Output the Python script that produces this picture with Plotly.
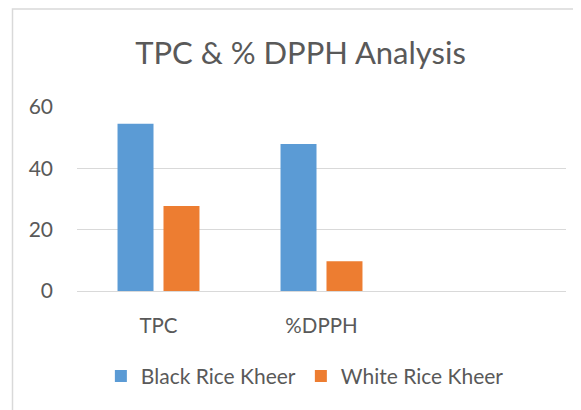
import plotly.graph_objects as go

categories = ["TPC", "%DPPH"]
black_rice = [54.5, 47.9]
white_rice = [27.7, 9.7]
series_names = ["Black Rice Kheer", "White Rice Kheer"]
tick_vals = [0, 20, 40, 60]

FONT = "Lato"
GREY = "#595959"

fig = go.Figure()
fig.add_trace(go.Bar(x=categories, y=black_rice, name=series_names[0],
                     marker=dict(color="#5B9BD5", line=dict(width=0))))
fig.add_trace(go.Bar(x=categories, y=white_rice, name=series_names[1],
                     marker=dict(color="#ED7D31", line=dict(width=0))))

fig.update_layout(
    width=573, height=402,
    margin=dict(l=69, r=15, t=99, b=119.3),
    paper_bgcolor="white", plot_bgcolor="white",
    barmode="group", bargap=0.436, bargroupgap=0.217,
    font=dict(family=FONT, color=GREY),
    title=dict(text="TPC & % DPPH Analysis", x=0.5105, xanchor="center",
               y=0.888, yanchor="middle", yref="container",
               font=dict(size=31, color=GREY, family=FONT)),
    xaxis=dict(type="category", range=[-0.5, 2.5], showgrid=False,
               showline=False, zeroline=False, ticks="",
               tickfont=dict(size=20.5, color=GREY), ticklabelstandoff=20),
    yaxis=dict(range=[0, 60], tickvals=tick_vals, showgrid=True,
               gridcolor="#d9d9d9", gridwidth=1, zeroline=True,
               zerolinecolor="#d9d9d9", zerolinewidth=1, showline=False,
               ticks="", tickfont=dict(size=21, color=GREY),
               ticklabelstandoff=23),
    showlegend=True,
    legend=dict(orientation="h", x=0.466, xanchor="center", y=-0.464,
                yanchor="middle", font=dict(size=21, color=GREY),
                itemwidth=30, bgcolor="rgba(0,0,0,0)"),
    shapes=[dict(type="rect", xref="paper", yref="paper",
                 x0=-0.1319, x1=1.2, y0=-0.8, y1=1.533,
                 line=dict(color="#d9d9d9", width=1.5),
                 fillcolor="rgba(0,0,0,0)", layer="below")],
)

fig.write_html("out.html")
